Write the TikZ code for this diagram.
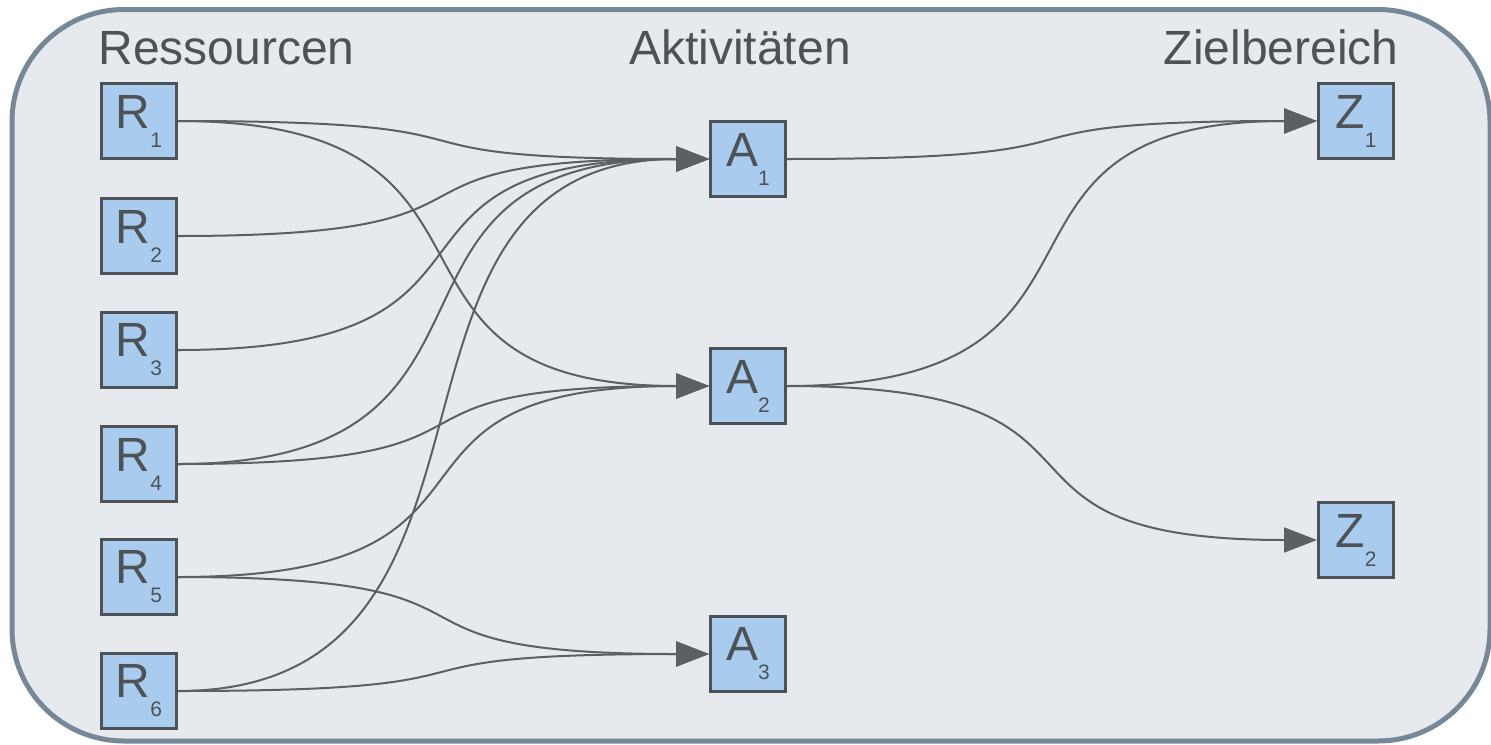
\documentclass[tikz,border=0pt]{standalone}
\usepackage{fontspec}
\setmainfont{Liberation Sans}
\usetikzlibrary{arrows.meta}
\definecolor{panelfill}{HTML}{E6EAEE}
\definecolor{panelline}{HTML}{768797}
\definecolor{boxfill}{HTML}{A9CBEE}
\definecolor{boxline}{HTML}{4D5257}
\definecolor{edgecol}{HTML}{5B6065}
\newcommand{\lbl}[2]{#1\raisebox{-9.5pt}{\fontsize{10.5pt}{12pt}\selectfont #2}}
\begin{document}
\begin{tikzpicture}[x=0.5pt,y=-0.5pt,
  panel/.style={draw=panelline,fill=panelfill,line width=2.5pt,rounded corners=56pt},
  itembox/.style={draw=boxline,fill=boxfill,line width=1.5pt,minimum size=37.5pt,inner sep=0pt,
    text=boxline,font=\fontsize{24pt}{28pt}\selectfont},
  heading/.style={text=boxline,font=\fontsize{24pt}{28pt}\selectfont,inner sep=0pt},
  flow/.style={draw=edgecol,line width=1pt,-{Triangle[length=16.5pt,width=12.5pt]}}
]
\useasboundingbox (0,0) rectangle (1491,744);
\path[panel] (12,9.5) rectangle (1490,741);

\node[heading,anchor=base west] (hR) at (98,64) {Ressourcen};
\node[heading,anchor=base] (hA) at (740,64) {Aktivitäten};
\node[heading,anchor=base east] (hZ) at (1399,64) {Zielbereich};

\node[itembox] (R1) at (139,121) {\lbl{R}{1}};
\node[itembox] (R2) at (139,236) {\lbl{R}{2}};
\node[itembox] (R3) at (139,350) {\lbl{R}{3}};
\node[itembox] (R4) at (139,464) {\lbl{R}{4}};
\node[itembox] (R5) at (139,577) {\lbl{R}{5}};
\node[itembox] (R6) at (139,691) {\lbl{R}{6}};

\node[itembox] (A1) at (748,159) {\lbl{A}{1}};
\node[itembox] (A2) at (748,386) {\lbl{A}{2}};
\node[itembox] (A3) at (748,654) {\lbl{A}{3}};

\node[itembox] (Z1) at (1356,121) {\lbl{Z}{1}};
\node[itembox] (Z2) at (1356,540) {\lbl{Z}{2}};

\draw[flow] (R1.east) .. controls +(370,0) and +(-370,0) .. (A1.west);
\draw[flow] (R1.east) .. controls +(370,0) and +(-370,0) .. (A2.west);
\draw[flow] (R2.east) .. controls +(370,0) and +(-370,0) .. (A1.west);
\draw[flow] (R3.east) .. controls +(370,0) and +(-370,0) .. (A1.west);
\draw[flow] (R4.east) .. controls +(370,0) and +(-370,0) .. (A1.west);
\draw[flow] (R4.east) .. controls +(370,0) and +(-370,0) .. (A2.west);
\draw[flow] (R5.east) .. controls +(370,0) and +(-370,0) .. (A2.west);
\draw[flow] (R5.east) .. controls +(370,0) and +(-370,0) .. (A3.west);
\draw[flow] (R6.east) .. controls +(370,0) and +(-370,0) .. (A1.west);
\draw[flow] (R6.east) .. controls +(370,0) and +(-370,0) .. (A3.west);

\draw[flow] (A1.east) .. controls +(370,0) and +(-370,0) .. (Z1.west);
\draw[flow] (A2.east) .. controls +(370,0) and +(-370,0) .. (Z1.west);
\draw[flow] (A2.east) .. controls +(370,0) and +(-370,0) .. (Z2.west);
\end{tikzpicture}
\end{document}
